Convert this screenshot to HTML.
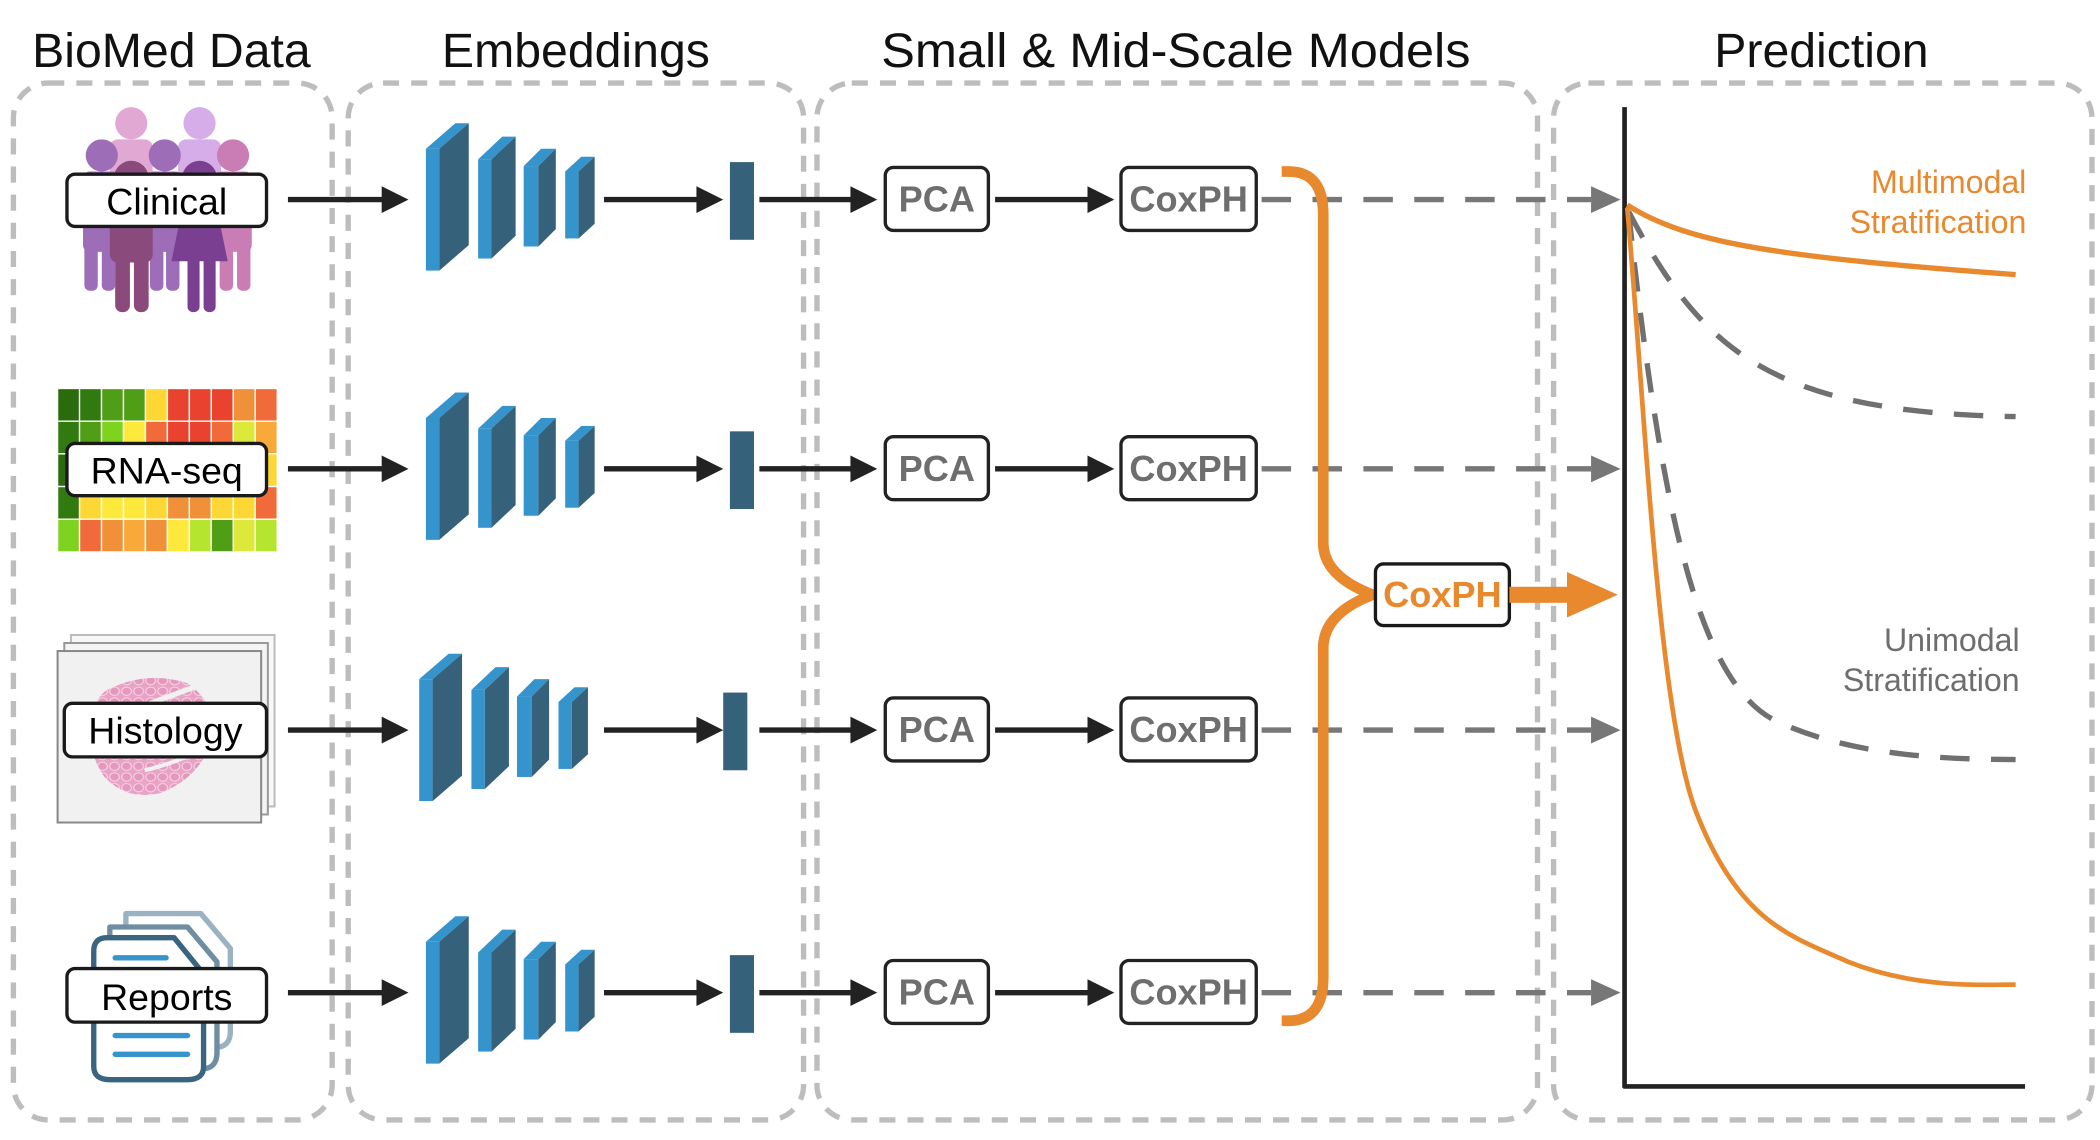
<!DOCTYPE html>
<html><head><meta charset="utf-8"><style>
html,body{margin:0;padding:0;background:#fff;}
svg{display:block;}
text{font-family:"Liberation Sans",Arial,sans-serif;}
</style></head><body>
<svg width="2100" height="1140" viewBox="0 0 1568 851" preserveAspectRatio="none" xmlns="http://www.w3.org/2000/svg">
<defs>
<pattern id="cells" width="9" height="8" patternUnits="userSpaceOnUse">
  <rect width="9" height="8" fill="#e8a3c5"/>
  <ellipse cx="4.5" cy="4" rx="3.6" ry="3.1" fill="#e597be" stroke="#f6d6e6" stroke-width="0.8"/>
</pattern>
<g id="blocks">
  <polygon points="318,111 328,111 350,92 340,92" fill="#3694cc"/>
  <rect x="318" y="111" width="10" height="91" fill="#3694cc"/>
  <polygon points="328,111 350,92 350,183 328,202" fill="#35617a"/>
  <polygon points="357,119 367,119 385,102 375,102" fill="#3694cc"/>
  <rect x="357" y="119" width="10" height="74" fill="#3694cc"/>
  <polygon points="367,119 385,102 385,176 367,193" fill="#35617a"/>
  <polygon points="391,124 402,124 415,111 404,111" fill="#3694cc"/>
  <rect x="391" y="124" width="11" height="60" fill="#3694cc"/>
  <polygon points="402,124 415,111 415,171 402,184" fill="#35617a"/>
  <polygon points="422,128 432,128 444,117 434,117" fill="#3694cc"/>
  <rect x="422" y="128" width="10" height="50" fill="#3694cc"/>
  <polygon points="432,128 444,117 444,167 432,178" fill="#35617a"/>
  <rect x="545" y="121" width="18" height="58" fill="#35617a"/>
</g>
<g id="arrowsrow" fill="#222" stroke="#222">
  <line x1="215" y1="149" x2="290" y2="149" stroke-width="4"/>
  <polygon points="285,139 305,149 285,159" stroke="none"/>
  <line x1="451" y1="149" x2="525" y2="149" stroke-width="4"/>
  <polygon points="520,139 540,149 520,159" stroke="none"/>
  <line x1="567" y1="149" x2="640" y2="149" stroke-width="4"/>
  <polygon points="635,139 655,149 635,159" stroke="none"/>
  <line x1="743" y1="149" x2="817" y2="149" stroke-width="4"/>
  <polygon points="812,139 832,149 812,159" stroke="none"/>
  <rect x="661" y="125" width="77" height="47" rx="6" fill="#fff" stroke-width="2.5"/>
  <rect x="837" y="125" width="101" height="47" rx="6" fill="#fff" stroke-width="2.5"/>
  <line x1="942" y1="149" x2="1188" y2="149" stroke="#777" stroke-width="4" stroke-dasharray="22 16"/>
  <polygon points="1188,139 1210,149 1188,159" fill="#777" stroke="none"/>
</g>
</defs>

<!-- panels -->
<g fill="none" stroke="#bdbdbd" stroke-width="4" stroke-dasharray="12 9">
  <rect x="10" y="62" width="238" height="774" rx="26"/>
  <rect x="260" y="62" width="340" height="774" rx="26"/>
  <rect x="610" y="62" width="538" height="774" rx="26"/>
  <rect x="1160" y="62" width="402" height="774" rx="26"/>
</g>

<!-- titles -->
<g font-size="36" fill="#111" text-anchor="middle">
  <text x="128" y="50">BioMed Data</text>
  <text x="430" y="50">Embeddings</text>
  <text x="878" y="50" textLength="440" lengthAdjust="spacingAndGlyphs">Small &amp; Mid-Scale Models</text>
  <text x="1360" y="50">Prediction</text>
</g>

<!-- rows -->
<use href="#arrowsrow"/>
<use href="#arrowsrow" y="201"/>
<use href="#arrowsrow" y="396"/>
<use href="#arrowsrow" y="592"/>
<use href="#blocks"/>
<use href="#blocks" y="201"/>
<use href="#blocks" x="-5" y="396"/>
<use href="#blocks" y="592"/>

<g font-size="27" font-weight="bold" fill="#6e6e6e" text-anchor="middle">
  <text x="699.5" y="158">PCA</text><text x="887.5" y="158">CoxPH</text>
  <text x="699.5" y="359">PCA</text><text x="887.5" y="359">CoxPH</text>
  <text x="699.5" y="554">PCA</text><text x="887.5" y="554">CoxPH</text>
  <text x="699.5" y="750">PCA</text><text x="887.5" y="750">CoxPH</text>
</g>

<!-- clinical people -->
<g>
  <circle cx="98" cy="92" r="12" fill="#e2a8d4"/>
  <rect x="82" y="104" width="32" height="55" rx="6" fill="#e2a8d4"/>
  <circle cx="149" cy="92" r="12" fill="#d6ade8"/>
  <rect x="133" y="104" width="32" height="55" rx="6" fill="#d6ade8"/>
  <circle cx="76" cy="116" r="12" fill="#9d6db8"/>
  <rect x="62" y="128" width="28" height="60" rx="5" fill="#9d6db8"/>
  <rect x="63" y="165" width="10" height="52" rx="4" fill="#9d6db8"/>
  <rect x="76" y="165" width="10" height="52" rx="4" fill="#9d6db8"/>
  <circle cx="123" cy="116" r="12" fill="#9d6db8"/>
  <rect x="110" y="128" width="26" height="60" rx="5" fill="#9d6db8"/>
  <rect x="112" y="165" width="10" height="52" rx="4" fill="#9d6db8"/>
  <rect x="124" y="165" width="10" height="52" rx="4" fill="#9d6db8"/>
  <circle cx="174" cy="116" r="12" fill="#c97db4"/>
  <rect x="160" y="128" width="28" height="60" rx="5" fill="#c97db4"/>
  <rect x="164" y="165" width="10" height="52" rx="4" fill="#c97db4"/>
  <rect x="177" y="165" width="10" height="52" rx="4" fill="#c97db4"/>
  <circle cx="98" cy="133" r="13" fill="#8a4a7c"/>
  <rect x="82" y="146" width="32" height="50" rx="6" fill="#8a4a7c"/>
  <rect x="86" y="180" width="11" height="53" rx="5" fill="#8a4a7c"/>
  <rect x="100" y="180" width="11" height="53" rx="5" fill="#8a4a7c"/>
  <circle cx="149" cy="133" r="13" fill="#7b3f92"/>
  <polygon points="138,146 160,146 170,195 128,195" fill="#7b3f92"/>
  <rect x="140" y="190" width="9" height="43" rx="4" fill="#7b3f92"/>
  <rect x="152" y="190" width="9" height="43" rx="4" fill="#7b3f92"/>
</g>

<!-- heatmap -->
<g stroke="#fff" stroke-width="1">
<rect x="43" y="290" width="16.4" height="24.4" fill="#2a6b0c"/><rect x="59.4" y="290" width="16.4" height="24.4" fill="#317a10"/><rect x="75.8" y="290" width="16.4" height="24.4" fill="#4f9e16"/><rect x="92.2" y="290" width="16.4" height="24.4" fill="#4f9e16"/><rect x="108.6" y="290" width="16.4" height="24.4" fill="#fdd835"/><rect x="125" y="290" width="16.4" height="24.4" fill="#e94330"/><rect x="141.4" y="290" width="16.4" height="24.4" fill="#e94330"/><rect x="157.8" y="290" width="16.4" height="24.4" fill="#e94330"/><rect x="174.2" y="290" width="16.4" height="24.4" fill="#f0913a"/><rect x="190.6" y="290" width="16.4" height="24.4" fill="#f06a3a"/>
<rect x="43" y="314.4" width="16.4" height="24.4" fill="#317a10"/><rect x="59.4" y="314.4" width="16.4" height="24.4" fill="#4f9e16"/><rect x="75.8" y="314.4" width="16.4" height="24.4" fill="#7ed321"/><rect x="92.2" y="314.4" width="16.4" height="24.4" fill="#fde93b"/><rect x="108.6" y="314.4" width="16.4" height="24.4" fill="#f06a3a"/><rect x="125" y="314.4" width="16.4" height="24.4" fill="#e94330"/><rect x="141.4" y="314.4" width="16.4" height="24.4" fill="#e94330"/><rect x="157.8" y="314.4" width="16.4" height="24.4" fill="#f06a3a"/><rect x="174.2" y="314.4" width="16.4" height="24.4" fill="#dce93b"/><rect x="190.6" y="314.4" width="16.4" height="24.4" fill="#f9a83a"/>
<rect x="43" y="338.8" width="16.4" height="24.4" fill="#2a6b0c"/><rect x="59.4" y="338.8" width="16.4" height="24.4" fill="#fdd835"/><rect x="75.8" y="338.8" width="16.4" height="24.4" fill="#fde93b"/><rect x="92.2" y="338.8" width="16.4" height="24.4" fill="#fde93b"/><rect x="108.6" y="338.8" width="16.4" height="24.4" fill="#f9c83a"/><rect x="125" y="338.8" width="16.4" height="24.4" fill="#f0913a"/><rect x="141.4" y="338.8" width="16.4" height="24.4" fill="#f9c83a"/><rect x="157.8" y="338.8" width="16.4" height="24.4" fill="#fdd835"/><rect x="174.2" y="338.8" width="16.4" height="24.4" fill="#fde93b"/><rect x="190.6" y="338.8" width="16.4" height="24.4" fill="#fdd835"/>
<rect x="43" y="363.2" width="16.4" height="24.4" fill="#317a10"/><rect x="59.4" y="363.2" width="16.4" height="24.4" fill="#fdd835"/><rect x="75.8" y="363.2" width="16.4" height="24.4" fill="#fde93b"/><rect x="92.2" y="363.2" width="16.4" height="24.4" fill="#fde93b"/><rect x="108.6" y="363.2" width="16.4" height="24.4" fill="#fdd835"/><rect x="125" y="363.2" width="16.4" height="24.4" fill="#f0913a"/><rect x="141.4" y="363.2" width="16.4" height="24.4" fill="#f0913a"/><rect x="157.8" y="363.2" width="16.4" height="24.4" fill="#fdd835"/><rect x="174.2" y="363.2" width="16.4" height="24.4" fill="#fdd835"/><rect x="190.6" y="363.2" width="16.4" height="24.4" fill="#f06a3a"/>
<rect x="43" y="387.6" width="16.4" height="24.4" fill="#7ed321"/><rect x="59.4" y="387.6" width="16.4" height="24.4" fill="#f06a3a"/><rect x="75.8" y="387.6" width="16.4" height="24.4" fill="#f0913a"/><rect x="92.2" y="387.6" width="16.4" height="24.4" fill="#f9a83a"/><rect x="108.6" y="387.6" width="16.4" height="24.4" fill="#f0913a"/><rect x="125" y="387.6" width="16.4" height="24.4" fill="#fde93b"/><rect x="141.4" y="387.6" width="16.4" height="24.4" fill="#b5e52f"/><rect x="157.8" y="387.6" width="16.4" height="24.4" fill="#4f9e16"/><rect x="174.2" y="387.6" width="16.4" height="24.4" fill="#dce93b"/><rect x="190.6" y="387.6" width="16.4" height="24.4" fill="#b5e52f"/>
</g>

<!-- histology -->
<rect x="53" y="474" width="152" height="128" fill="#f7f7f7" stroke="#bbb" stroke-width="1.5"/>
<rect x="48" y="480" width="152" height="128" fill="#f4f4f4" stroke="#999" stroke-width="1.5"/>
<rect x="43" y="486" width="152" height="128" fill="#f1f1f1" stroke="#888" stroke-width="1.5"/>
<path d="M80,515 Q110,500 140,510 Q162,525 158,552 Q150,580 120,592 Q95,598 78,580 Q64,560 68,535 Q72,520 80,515 Z" fill="url(#cells)"/>
<path d="M100,530 Q125,520 148,512" stroke="#f1f1f1" stroke-width="4" fill="none"/>
<path d="M108,575 Q130,570 150,560" stroke="#f1f1f1" stroke-width="3" fill="none"/>

<!-- reports -->
<g fill="#fff" stroke-width="4" stroke-linejoin="round">
  <path d="M94,682 H150 L172,708 V770 Q172,782 160,782 H106 Q94,782 94,770 Z" stroke="#9bb2c2"/>
  <path d="M82,692 H140 L162,718 V786 Q162,798 150,798 H94 Q82,798 82,786 Z" stroke="#6f8ea3"/>
  <path d="M70,710 Q70,700 80,700 H130 L152,727 V796 Q152,806 140,806 H82 Q70,806 70,796 Z" stroke="#3a6580"/>
</g>
<g stroke="#3694cc" stroke-width="4" stroke-linecap="round">
  <line x1="86" y1="715" x2="124" y2="715"/>
  <line x1="86" y1="773" x2="140" y2="773"/>
  <line x1="86" y1="787" x2="140" y2="787"/>
</g>

<!-- labels -->
<g fill="#fff" stroke="#1a1a1a" stroke-width="2.5">
  <rect x="50" y="130" width="149" height="39" rx="6"/>
  <rect x="50" y="331" width="149" height="39" rx="6"/>
  <rect x="48" y="525" width="151" height="40" rx="6"/>
  <rect x="50" y="723" width="149" height="40" rx="6"/>
</g>
<g font-size="28" fill="#000" text-anchor="middle">
  <text x="124.5" y="160">Clinical</text>
  <text x="124.5" y="361">RNA-seq</text>
  <text x="123.5" y="555">Histology</text>
  <text x="124.5" y="754">Reports</text>
</g>

<!-- orange bracket -->
<path d="M957,128 H962 Q988,128 988,160 V405 Q988,430 1025,444 Q988,458 988,484 V730 Q988,762 962,762 H957" fill="none" stroke="#e8892e" stroke-width="8"/>
<rect x="1027" y="421" width="100" height="46" rx="6" fill="#fff" stroke="#1a1a1a" stroke-width="2.5"/>
<text x="1077" y="453" font-size="27" font-weight="bold" fill="#e8892e" text-anchor="middle">CoxPH</text>
<rect x="1127" y="438" width="45" height="12" fill="#e8892e"/>
<polygon points="1170,427 1208,444 1170,461" fill="#e8892e"/>

<!-- plot -->
<g stroke="#222" stroke-width="3.5" fill="none">
  <line x1="1213" y1="80" x2="1213" y2="812"/>
  <line x1="1212" y1="811" x2="1512" y2="811"/>
</g>
<g fill="none" stroke-width="4">
  <path d="M1215,153 C1260,182 1330,192 1505,205" stroke="#e8892e"/>
  <path d="M1216,158 C1270,260 1320,308 1505,311" stroke="#707070" stroke-dasharray="22 16"/>
  <path d="M1216,158 C1240,380 1268,515 1330,540 C1380,562 1440,567 1505,567" stroke="#707070" stroke-dasharray="22 16"/>
  <path d="M1215,155 C1228,300 1238,540 1268,610 C1300,690 1340,700 1380,718 C1430,738 1480,735 1505,735" stroke="#e8892e" stroke-width="3.5"/>
</g>
<g font-size="24" text-anchor="end">
  <text x="1513" y="144" fill="#e8892e">Multimodal</text>
  <text x="1513" y="174" fill="#e8892e">Stratification</text>
  <text x="1508" y="486" fill="#6e6e6e">Unimodal</text>
  <text x="1508" y="516" fill="#6e6e6e">Stratification</text>
</g>
</svg>
</body></html>
